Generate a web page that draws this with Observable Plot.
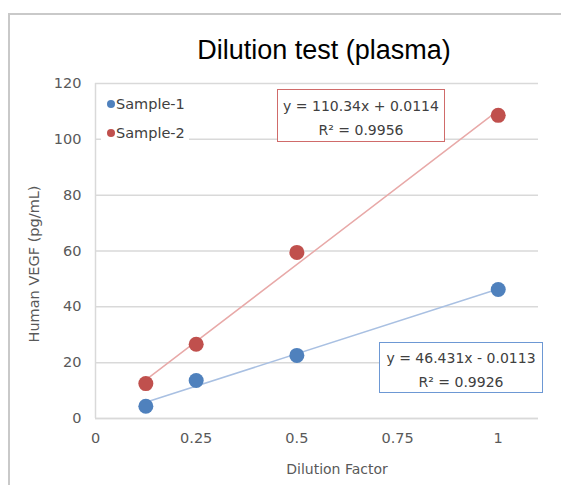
<!DOCTYPE html>
<html><head><meta charset="utf-8">
<script src="https://cdn.jsdelivr.net/npm/d3@7"></script>
<script src="https://cdn.jsdelivr.net/npm/@observablehq/plot@0.6"></script>
<style>
html,body{margin:0;background:#fff;overflow:hidden;}
#wrap{position:relative;width:561px;height:485px;overflow:hidden;font-family:"DejaVu Sans",sans-serif;background:#fff;}
#ftop{position:absolute;left:8px;top:13px;width:553px;height:2px;background:#c9c9c9;}
#fleft{position:absolute;left:8px;top:13px;width:2px;height:472px;background:#c9c9c9;}
#title{position:absolute;left:0;width:648px;top:30px;text-align:center;font-family:"Liberation Sans",Arial,sans-serif;font-size:27px;color:#000;line-height:40px;}
#chart{position:absolute;left:0;top:0;width:561px;height:485px;overflow:hidden;}
#chart svg{display:block;}
#ylab{position:absolute;left:34px;top:264px;transform:translate(-50%,-50%) rotate(-90deg);white-space:nowrap;font-size:14.5px;color:#595959;}
#legend{position:absolute;left:101px;top:91px;width:88px;height:54px;background:#fff;}
.li{position:absolute;left:0;height:20px;font-size:14.5px;color:#404040;line-height:20px;}
.li span.dot{position:absolute;left:6px;top:6px;width:8px;height:8px;border-radius:50%;}
.li span.txt{position:absolute;left:15px;top:0;white-space:nowrap;}
.eq{position:absolute;background:#fff;font-size:14px;color:#404040;text-align:center;line-height:24px;box-sizing:border-box;white-space:nowrap;}
</style></head><body>
<div id="wrap">
 <div id="chart"></div>
 <div id="ftop"></div>
 <div id="fleft"></div>
 <div id="title">Dilution test (plasma)</div>
 <div id="ylab"></div>
 <div id="legend"></div>
 <div class="eq" id="eq2"></div>
 <div class="eq" id="eq1"></div>
</div>
<script>
const dilution = [0.125, 0.25, 0.5, 1];
const sample1 = [4.4, 13.6, 22.6, 46.2];
const sample2 = [12.5, 26.6, 59.5, 108.6];
const seriesNames = ["Sample-1", "Sample-2"];
const seriesColors = ["#4F81BD", "#C0504D"];
const trendColors = ["#a9c0e2", "#e8a9a8"];
const boxColors = ["#6d98d4", "#d06b6a"];
const slopes = [46.431, 110.34];
const intercepts = [-0.0113, 0.0114];
const r2 = [0.9926, 0.9956];
const xTicks = [0, 0.25, 0.5, 0.75, 1];
const yTicks = [0, 20, 40, 60, 80, 100, 120];
const xLabel = "Dilution Factor";
const yLabel = "Human VEGF (pg/mL)";

const seriesValues = [sample1, sample2];
const points = [];
seriesValues.forEach((vals, s) => vals.forEach((v, i) => points.push({x: dilution[i], y: v, series: seriesNames[s]})));
const trend = [];
seriesNames.forEach((name, s) => {
  const x0 = d3.min(dilution), x1 = d3.max(dilution);
  trend.push({x: x0, y: slopes[s] * x0 + intercepts[s], series: name});
  trend.push({x: x1, y: slopes[s] * x1 + intercepts[s], series: name});
});

const chart = Plot.plot({
  width: 561, height: 485,
  marginLeft: 95, marginRight: 23, marginTop: 83, marginBottom: 67,
  style: {fontFamily: "DejaVu Sans", fontSize: "14px", color: "#595959", background: "transparent"},
  x: {domain: [0, 1.1]},
  y: {domain: [0, 120]},
  color: {domain: seriesNames, range: seriesColors},
  marks: [
    Plot.gridY(yTicks, {stroke: "#d9d9d9", strokeOpacity: 1, strokeWidth: 1.5}),
    Plot.ruleX([0], {stroke: "#d9d9d9", strokeWidth: 1.5}),
    Plot.ruleY([0], {stroke: "#d9d9d9", strokeWidth: 1.5}),
    Plot.axisX(xTicks, {tickSize: 0, tickPadding: 14, label: null, tickFormat: d => String(d), fill: "#595959", fontSize: 14.5}),
    Plot.axisY(yTicks, {tickSize: 0, tickPadding: 14, label: null, fill: "#595959", fontSize: 14.5}),
    Plot.text([xLabel], {frameAnchor: "bottom", dx: 20, dy: 55, fill: "#595959", fontSize: 14}),
    Plot.line(trend, {x: "x", y: "y", z: "series", stroke: d => trendColors[seriesNames.indexOf(d.series)], strokeWidth: 1.5}),
    Plot.dot(points, {x: "x", y: "y", fill: "series", r: 7.5})
  ]
});
document.getElementById("chart").appendChild(chart);
document.getElementById("ylab").textContent = yLabel;

// legend
const leg = document.getElementById("legend");
seriesNames.forEach((name, i) => {
  const d = document.createElement("div");
  d.className = "li";
  d.style.top = (3 + i * 29) + "px";
  d.innerHTML = `<span class="dot" style="background:${seriesColors[i]}"></span><span class="txt">${name}</span>`;
  leg.appendChild(d);
});

// equation boxes
function fmtEq(s) {
  const b = intercepts[s];
  return `y = ${slopes[s]}x ${b < 0 ? "-" : "+"} ${Math.abs(b)}`;
}
const eqBoxes = [
  {id: "eq1", s: 0, left: 379, top: 342, w: 164, h: 51, pad: 3},
  {id: "eq2", s: 1, left: 277, top: 89, w: 168, h: 53, pad: 4}
];
eqBoxes.forEach(b => {
  const el = document.getElementById(b.id);
  el.style.left = b.left + "px"; el.style.top = b.top + "px";
  el.style.width = b.w + "px"; el.style.height = b.h + "px";
  el.style.border = `1.5px solid ${boxColors[b.s]}`;
  el.style.paddingTop = b.pad + "px";
  el.innerHTML = `${fmtEq(b.s)}<br>R² = ${r2[b.s]}`;
});
</script>
</body></html>
